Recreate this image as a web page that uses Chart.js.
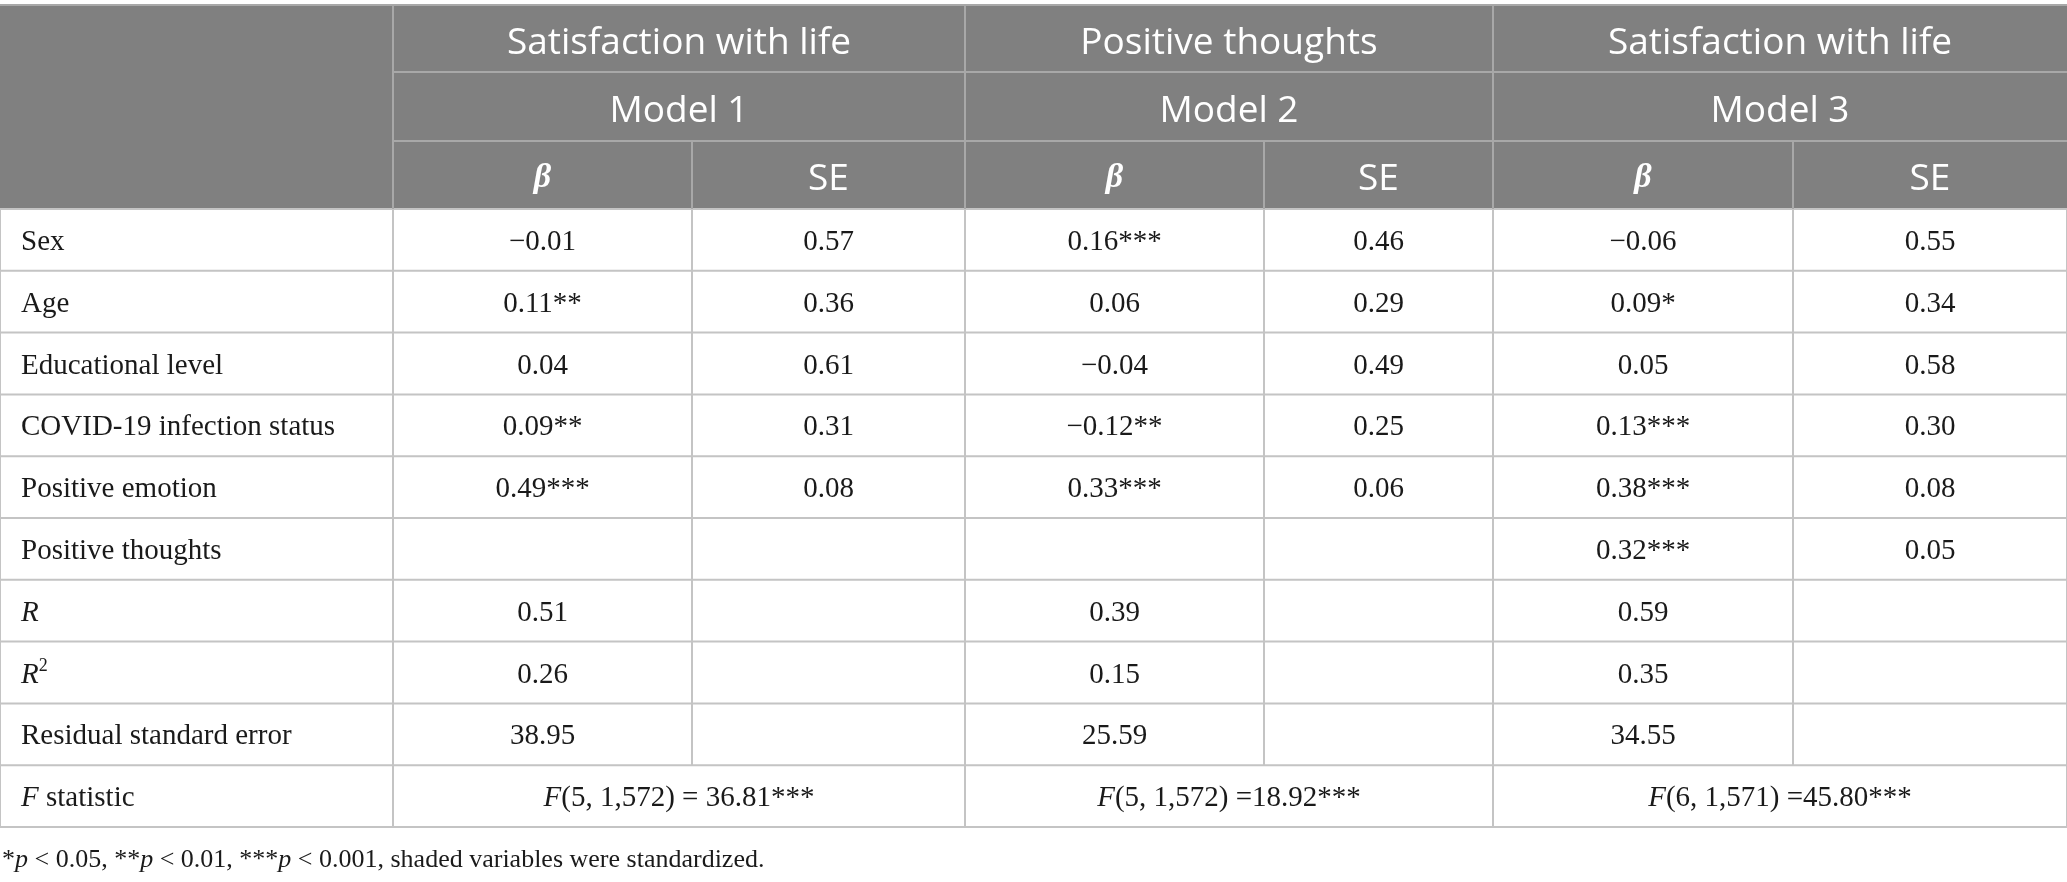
<!DOCTYPE html>
<html lang="en">
<head>
  <meta charset="UTF-8">
  <title>Regression models table</title>
  <script src="https://cdn.jsdelivr.net/npm/chart.js"></script>
  <style>
    html, body { margin: 0; padding: 0; background: #fff; }
    #wrap { width: 2067px; height: 882px; position: relative; }
  </style>
</head>
<body>
  <div id="wrap"><canvas id="tableChart"></canvas></div>

  <script>
    // Table content
    const outcomes = ['Satisfaction with life', 'Positive thoughts', 'Satisfaction with life'];
    const models = ['Model 1', 'Model 2', 'Model 3'];
    const subHeads = ['<b><i>β</i></b>', 'SE'];
    const rowLabels = ['Sex', 'Age', 'Educational level', 'COVID-19 infection status', 'Positive emotion',
      'Positive thoughts', '<i>R</i>', '<i>R</i><sup>2</sup>', 'Residual standard error', '<i>F</i> statistic'];
    const betaM1 = ['−0.01', '0.11**', '0.04', '0.09**', '0.49***', '', '0.51', '0.26', '38.95'];
    const seM1 = ['0.57', '0.36', '0.61', '0.31', '0.08', '', '', '', ''];
    const betaM2 = ['0.16***', '0.06', '−0.04', '−0.12**', '0.33***', '', '0.39', '0.15', '25.59'];
    const seM2 = ['0.46', '0.29', '0.49', '0.25', '0.06', '', '', '', ''];
    const betaM3 = ['−0.06', '0.09*', '0.05', '0.13***', '0.38***', '0.32***', '0.59', '0.35', '34.55'];
    const seM3 = ['0.55', '0.34', '0.58', '0.30', '0.08', '0.05', '', '', ''];
    const fStats = ['<i>F</i>(5, 1,572) = 36.81***', '<i>F</i>(5, 1,572) =18.92***', '<i>F</i>(6, 1,571) =45.80***'];
    const footnote = '*<i>p</i> &lt; 0.05, **<i>p</i> &lt; 0.01, ***<i>p</i> &lt; 0.001, shaded variables were standardized.';

    // layout (in scale units, which map 1:1 onto the canvas)
    const colEdges = [0, 393, 692, 965, 1264, 1493, 1793, 2067];
    const headEdges = [5, 72, 141, 209];
    const bodyTop = 209, rowH = 61.8;

    const SERIF = '"Liberation Serif", "DejaVu Serif", serif';
    const SANS = '"Open Sans", "Noto Sans", sans-serif';

    // split "<i>x</i><sup>2</sup>" style markup into runs
    function parseRuns(str) {
      const runs = [];
      let italic = false, bold = false, sup = false, buf = '';
      const re = /<(\/?)(i|b|sup)>|&lt;/g;
      let last = 0, m;
      const push = () => { if (buf) runs.push({ text: buf, italic, bold, sup }); buf = ''; };
      while ((m = re.exec(str))) {
        buf += str.slice(last, m.index);
        last = re.lastIndex;
        if (m[0] === '&lt;') { buf += '<'; continue; }
        push();
        const on = m[1] !== '/';
        if (m[2] === 'i') italic = on;
        if (m[2] === 'b') bold = on;
        if (m[2] === 'sup') sup = on;
      }
      buf += str.slice(last);
      push();
      return runs;
    }

    function runFont(r, size, family) {
      const s = r.sup ? Math.round(size * 0.62) : size;
      return (r.italic ? 'italic ' : '') + (r.bold ? 'bold ' : '') + s + 'px ' + family;
    }

    function drawRich(ctx, str, x, y, align, size, family, color) {
      const runs = parseRuns(str);
      let total = 0;
      runs.forEach(r => { ctx.font = runFont(r, size, family); r.w = ctx.measureText(r.text).width; total += r.w; });
      let cx = align === 'center' ? x - total / 2 : x;
      ctx.fillStyle = color;
      ctx.textAlign = 'left';
      ctx.textBaseline = 'alphabetic';
      runs.forEach(r => {
        ctx.font = runFont(r, size, family);
        ctx.fillText(r.text, cx, r.sup ? y - size * 0.38 : y);
        cx += r.w;
      });
    }

    const tablePlugin = {
      id: 'tablePlugin',
      afterDraw(chart) {
        const ctx = chart.ctx;
        const xs = chart.scales.x, ys = chart.scales.y;
        const X = v => xs.getPixelForValue(v);
        const Y = v => ys.getPixelForValue(v);
        const rowEdge = i => bodyTop + i * rowH;
        const nRows = rowLabels.length;
        ctx.save();

        // header block
        ctx.fillStyle = '#808080';
        ctx.fillRect(X(0), Y(headEdges[0]), X(2067) - X(0), Y(headEdges[3]) - Y(headEdges[0]));

        // body grid
        ctx.strokeStyle = '#c4c4c4';
        ctx.lineWidth = 2;
        ctx.beginPath();
        for (let i = 0; i <= nRows; i++) {
          ctx.moveTo(X(0), Y(rowEdge(i)));
          ctx.lineTo(X(2067), Y(rowEdge(i)));
        }
        colEdges.forEach((c, k) => {
          const bottom = (k === 2 || k === 4 || k === 6) ? rowEdge(nRows - 1) : rowEdge(nRows);
          ctx.moveTo(X(c), Y(bodyTop));
          ctx.lineTo(X(c), Y(bottom));
        });
        ctx.stroke();

        // header grid
        ctx.strokeStyle = '#a8a8a8';
        ctx.beginPath();
        ctx.moveTo(X(0), Y(headEdges[0]));
        ctx.lineTo(X(2067), Y(headEdges[0]));
        [1, 2].forEach(h => {
          ctx.moveTo(X(colEdges[1]), Y(headEdges[h]));
          ctx.lineTo(X(2067), Y(headEdges[h]));
        });
        [1, 3, 5].forEach(k => {
          ctx.moveTo(X(colEdges[k]), Y(headEdges[0]));
          ctx.lineTo(X(colEdges[k]), Y(headEdges[3]));
        });
        [2, 4, 6].forEach(k => {
          ctx.moveTo(X(colEdges[k]), Y(headEdges[2]));
          ctx.lineTo(X(colEdges[k]), Y(headEdges[3]));
        });
        ctx.stroke();

        // header text
        const headMid = h => (Y(headEdges[h]) + Y(headEdges[h + 1])) / 2;
        for (let m = 0; m < 3; m++) {
          const l = colEdges[1 + 2 * m], mid = colEdges[2 + 2 * m], r = colEdges[3 + 2 * m];
          drawRich(ctx, outcomes[m], (X(l) + X(r)) / 2, headMid(0) + 15, 'center', 37, SANS, '#ffffff');
          drawRich(ctx, models[m], (X(l) + X(r)) / 2, headMid(1) + 15, 'center', 37, SANS, '#ffffff');
          drawRich(ctx, subHeads[0], (X(l) + X(mid)) / 2, headMid(2) + 12, 'center', 34, SERIF, '#ffffff');
          drawRich(ctx, subHeads[1], (X(mid) + X(r)) / 2, headMid(2) + 15, 'center', 37, SANS, '#ffffff');
        }

        // body text
        const cols = [betaM1, seM1, betaM2, seM2, betaM3, seM3];
        for (let i = 0; i < nRows; i++) {
          const yb = (Y(rowEdge(i)) + Y(rowEdge(i + 1))) / 2 + 10;
          drawRich(ctx, rowLabels[i], X(21), yb, 'left', 29, SERIF, '#1a1a1a');
          if (i < nRows - 1) {
            cols.forEach((col, c) => {
              if (col[i]) drawRich(ctx, col[i], (X(colEdges[c + 1]) + X(colEdges[c + 2])) / 2, yb, 'center', 29, SERIF, '#1a1a1a');
            });
          } else {
            fStats.forEach((s, m) => {
              drawRich(ctx, s, (X(colEdges[1 + 2 * m]) + X(colEdges[3 + 2 * m])) / 2, yb, 'center', 29, SERIF, '#1a1a1a');
            });
          }
        }

        // footnote
        drawRich(ctx, footnote, X(2), Y(867), 'left', 26, SERIF, '#1a1a1a');
        ctx.restore();
      }
    };

    const tableChart = new Chart(document.getElementById('tableChart'), {
      type: 'bar',
      data: { labels: [], datasets: [] },
      options: {
        responsive: true,
        maintainAspectRatio: false,
        animation: false,
        layout: { padding: 0 },
        plugins: { legend: { display: false }, tooltip: { enabled: false } },
        scales: {
          x: { type: 'linear', min: 0, max: 2067, offset: false, display: false },
          y: { type: 'linear', min: 0, max: 882, reverse: true, offset: false, display: false }
        }
      },
      plugins: [tablePlugin]
    });
  </script>
</body>
</html>
